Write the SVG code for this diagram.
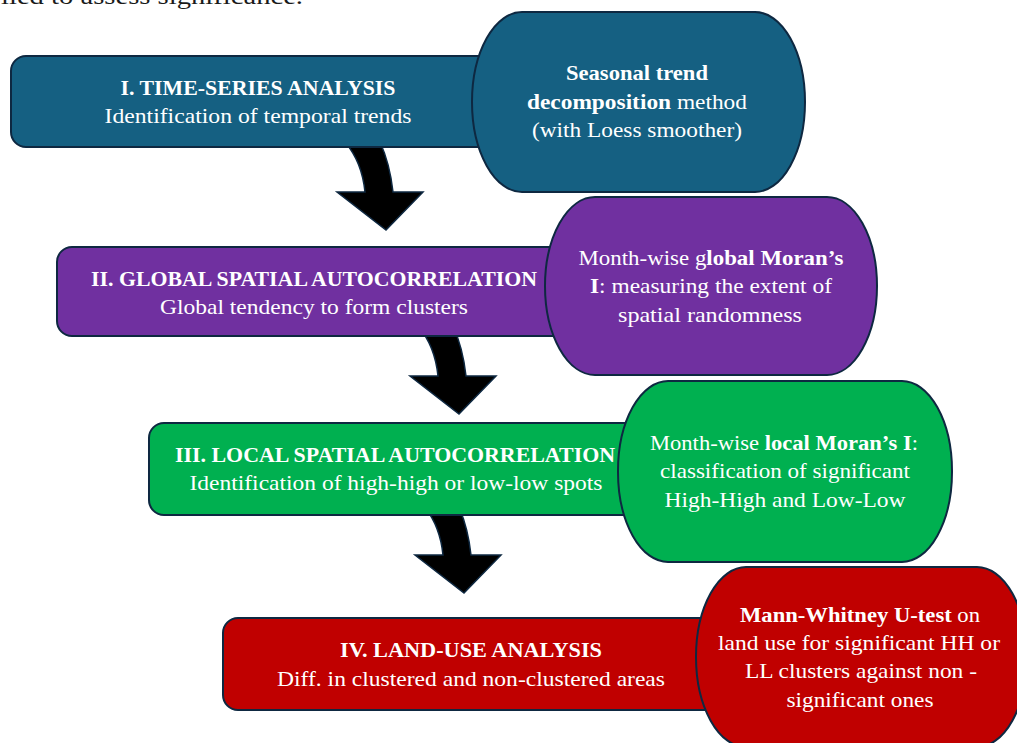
<svg xmlns="http://www.w3.org/2000/svg" width="1017" height="743" viewBox="0 0 1017 743">
  <style>
    .box { stroke: #0E2841; stroke-width: 2; }
    .pill { stroke: #0E2841; stroke-width: 2; }
    .t { font-family: "Liberation Serif", "Times New Roman", serif; font-size: 21px; fill: #ffffff; text-anchor: middle; }
    .b { font-weight: bold; }
    .arrow { fill: #000000; stroke: #0E2841; stroke-width: 1.5; stroke-linejoin: miter; }
    .cap { font-family: "Liberation Serif", "Times New Roman", serif; font-size: 23px; fill: #1a1a1a; }
  </style>
  <defs>
    <path id="curvedArrow" d="M -41,-88 Q -24,-68 -21,-38 L -49,-38 L 0,0 L 37,-38 L 7,-38 Q 4,-66 -6,-88 Z"/>
  </defs>
  <rect width="1017" height="743" fill="#ffffff"/>

  <text class="cap" x="1" y="4" textLength="302" lengthAdjust="spacingAndGlyphs">lied to assess significance.</text>

  <g id="connectors">
    <use href="#curvedArrow" class="arrow" transform="translate(386,230)"/>
    <use href="#curvedArrow" class="arrow" transform="translate(459,414)"/>
    <use href="#curvedArrow" class="arrow" transform="translate(464,593)"/>
  </g>

  <g id="stage1">
    <rect class="box" x="11" y="56" width="560" height="91" rx="15" ry="15" fill="#156082"/>
    <text class="t b" x="258" y="95" textLength="275" lengthAdjust="spacingAndGlyphs">I. TIME-SERIES ANALYSIS</text>
    <text class="t" x="258" y="123" textLength="307" lengthAdjust="spacingAndGlyphs">Identification of temporal trends</text>
  </g>
  <g id="method1">
    <rect class="pill" x="472" y="12" width="333" height="180" rx="50" ry="90" fill="#156082"/>
    <text class="t b" x="637" y="80" textLength="142" lengthAdjust="spacingAndGlyphs">Seasonal trend</text>
    <text class="t" x="637" y="109" textLength="220" lengthAdjust="spacingAndGlyphs"><tspan class="b">decomposition</tspan> method</text>
    <text class="t" x="637" y="137" textLength="210" lengthAdjust="spacingAndGlyphs">(with Loess smoother)</text>
  </g>

  <g id="stage2">
    <rect class="box" x="57" y="247" width="600" height="89" rx="15" ry="15" fill="#7030A0"/>
    <text class="t b" x="314" y="286" textLength="446" lengthAdjust="spacingAndGlyphs">II. GLOBAL SPATIAL AUTOCORRELATION</text>
    <text class="t" x="314" y="314" textLength="308" lengthAdjust="spacingAndGlyphs">Global tendency to form clusters</text>
  </g>
  <g id="method2">
    <rect class="pill" x="545" y="197" width="332" height="178" rx="50" ry="89" fill="#7030A0"/>
    <text class="t" x="711" y="265" textLength="265" lengthAdjust="spacingAndGlyphs">Month-wise g<tspan class="b">lobal Moran’s</tspan></text>
    <text class="t" x="711" y="293" textLength="242" lengthAdjust="spacingAndGlyphs"><tspan class="b">I</tspan>: measuring the extent of</text>
    <text class="t" x="710" y="322" textLength="184" lengthAdjust="spacingAndGlyphs">spatial randomness</text>
  </g>

  <g id="stage3">
    <rect class="box" x="149" y="423" width="560" height="92" rx="15" ry="15" fill="#00B050"/>
    <text class="t b" x="395" y="462" textLength="440" lengthAdjust="spacingAndGlyphs">III. LOCAL SPATIAL AUTOCORRELATION</text>
    <text class="t" x="396" y="490" textLength="413" lengthAdjust="spacingAndGlyphs">Identification of high-high or low-low spots</text>
  </g>
  <g id="method3">
    <rect class="pill" x="618" y="381" width="334" height="181" rx="50" ry="90" fill="#00B050"/>
    <text class="t" x="784" y="450" textLength="268" lengthAdjust="spacingAndGlyphs">Month-wise <tspan class="b">local Moran’s I</tspan>:</text>
    <text class="t" x="785" y="478" textLength="250" lengthAdjust="spacingAndGlyphs">classification of significant</text>
    <text class="t" x="785" y="507" textLength="241" lengthAdjust="spacingAndGlyphs">High-High and Low-Low</text>
  </g>

  <g id="stage4">
    <rect class="box" x="223" y="618" width="560" height="92" rx="15" ry="15" fill="#C00000"/>
    <text class="t b" x="471" y="657" textLength="262" lengthAdjust="spacingAndGlyphs">IV. LAND-USE ANALYSIS</text>
    <text class="t" x="471" y="686" textLength="388" lengthAdjust="spacingAndGlyphs">Diff. in clustered and non-clustered areas</text>
  </g>
  <g id="method4">
    <rect class="pill" x="696" y="567" width="331" height="180" rx="50" ry="90" fill="#C00000"/>
    <text class="t" x="860" y="622" textLength="240" lengthAdjust="spacingAndGlyphs"><tspan class="b">Mann-Whitney U-test</tspan> on</text>
    <text class="t" x="859" y="650" textLength="282" lengthAdjust="spacingAndGlyphs">land use for significant HH or</text>
    <text class="t" x="861" y="678" textLength="232" lengthAdjust="spacingAndGlyphs">LL clusters against non -</text>
    <text class="t" x="860" y="707" textLength="147" lengthAdjust="spacingAndGlyphs">significant ones</text>
  </g>
</svg>
